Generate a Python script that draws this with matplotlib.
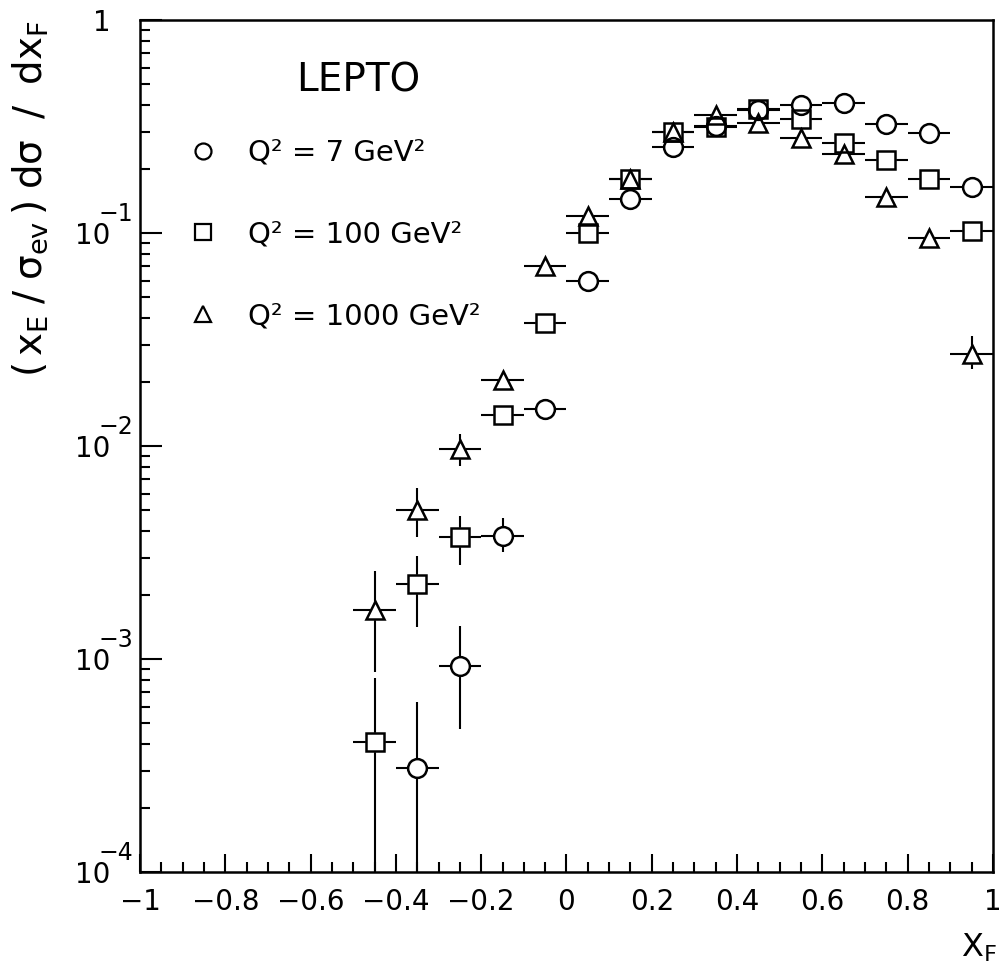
import matplotlib
matplotlib.use('Agg')
import matplotlib.pyplot as plt
from matplotlib.lines import Line2D
from matplotlib.ticker import FixedLocator, FixedFormatter, LogLocator, NullFormatter

plt.rcParams['font.family'] = ['DejaVu Sans']
plt.rcParams['mathtext.default'] = 'regular'

# Q^2 = 7 GeV^2 (circles)
x_q7 = [-0.35, -0.25, -0.15, -0.05, 0.05, 0.15, 0.25, 0.35, 0.45, 0.55, 0.65, 0.75, 0.85, 0.95]
y_q7 = [3.1e-4, 9.3e-4, 3.8e-3, 1.5e-2, 6.0e-2, 0.145, 0.255, 0.32, 0.38, 0.40, 0.41, 0.325, 0.295, 0.165]
up_q7 = [3.2e-4, 5.0e-4, 8.0e-4, 0, 0, 0, 0, 0, 0, 0, 0, 0, 0, 0]
lo_q7 = [3.09e-4, 4.6e-4, 6.0e-4, 0, 0, 0, 0, 0, 0, 0, 0, 0, 0, 0]

# Q^2 = 100 GeV^2 (squares)
x_q100 = [-0.45, -0.35, -0.25, -0.15, -0.05, 0.05, 0.15, 0.25, 0.35, 0.45, 0.55, 0.65, 0.75, 0.85, 0.95]
y_q100 = [4.1e-4, 2.25e-3, 3.75e-3, 1.4e-2, 3.8e-2, 0.10, 0.18, 0.30, 0.315, 0.385, 0.345, 0.265, 0.22, 0.18, 0.103]
up_q100 = [4.1e-4, 8.2e-4, 9.8e-4, 0, 0, 0, 0, 0, 0, 0, 0, 0, 0, 0, 0]
lo_q100 = [4.09e-4, 8.3e-4, 9.8e-4, 0, 0, 0, 0, 0, 0, 0, 0, 0, 0, 0, 0]

# Q^2 = 1000 GeV^2 (triangles)
x_q1000 = [-0.45, -0.35, -0.25, -0.15, -0.05, 0.05, 0.15, 0.25, 0.35, 0.45, 0.55, 0.65, 0.75, 0.85, 0.95]
y_q1000 = [1.7e-3, 5.0e-3, 9.7e-3, 2.05e-2, 7.0e-2, 0.12, 0.18, 0.30, 0.36, 0.33, 0.28, 0.235, 0.148, 0.095, 0.027]
up_q1000 = [9.0e-4, 1.35e-3, 1.7e-3, 0, 0, 0, 0, 0, 0, 0, 0, 0, 0, 0, 6.0e-3]
lo_q1000 = [8.3e-4, 1.25e-3, 1.6e-3, 0, 0, 0, 0, 0, 0, 0, 0, 0, 0, 0, 4.0e-3]

series = [
    (x_q7, y_q7, lo_q7, up_q7, 'o', 'Q² = 7 GeV²'),
    (x_q100, y_q100, lo_q100, up_q100, 's', 'Q² = 100 GeV²'),
    (x_q1000, y_q1000, lo_q1000, up_q1000, '^', 'Q² = 1000 GeV²'),
]
bin_half = 0.05

x_ticks = [-1, -0.8, -0.6, -0.4, -0.2, 0, 0.2, 0.4, 0.6, 0.8, 1]
x_ticklabels = ['−1', '−0.8', '−0.6', '−0.4', '−0.2', '0', '0.2', '0.4', '0.6', '0.8', '1']
y_ticks = [1, 1e-1, 1e-2, 1e-3, 1e-4]
y_ticklabels = ['1', '10', '10', '10', '10']
y_exps = ['', '−1', '−2', '−3', '−4']

fig = plt.figure(figsize=(10.03, 9.67), dpi=100)
ax = fig.add_axes([0.1396, 0.098, 0.8504, 0.881])

ms = 13.5
for x, y, lo, up, mk, lab in series:
    ax.errorbar(x, y, xerr=bin_half, yerr=[lo, up], fmt='none', ecolor='black',
                elinewidth=1.5, capsize=0, zorder=2)
for x, y, lo, up, mk, lab in series:
    ax.plot(x, y, linestyle='none', marker=mk, markersize=ms, markerfacecolor='white',
            markeredgecolor='white', zorder=3)
for x, y, lo, up, mk, lab in series:
    ax.plot(x, y, linestyle='none', marker=mk, markersize=ms, markerfacecolor='none',
            markeredgecolor='black', markeredgewidth=1.8, zorder=4)

ax.set_yscale('log')
ax.set_xlim(-1, 1)
ax.set_ylim(1e-4, 1)

ax.xaxis.set_major_locator(FixedLocator(x_ticks))
ax.xaxis.set_major_formatter(FixedFormatter(x_ticklabels))
ax.xaxis.set_minor_locator(FixedLocator([i * 0.05 - 1 for i in range(41)]))
ax.yaxis.set_major_locator(FixedLocator(y_ticks))
ax.yaxis.set_major_formatter(FixedFormatter(y_ticklabels))
ax.yaxis.set_minor_locator(LogLocator(base=10, subs=range(2, 10)))
ax.yaxis.set_minor_formatter(NullFormatter())

ax.tick_params(axis='both', which='both', direction='in', top=False, right=False, width=1.5)
ax.tick_params(axis='x', which='major', length=13, pad=11, labelsize=20)
ax.tick_params(axis='x', which='minor', length=7)
ax.tick_params(axis='y', which='major', length=16, pad=21, labelsize=20)
ax.tick_params(axis='y', which='minor', length=7)
for s in ax.spines.values():
    s.set_linewidth(1.8)

for val, e in zip(y_ticks, y_exps):
    if e:
        ax.annotate(e, xy=(0, val), xycoords=ax.get_yaxis_transform(),
                    xytext=(-30, 14), textcoords='offset points',
                    ha='left', va='center', fontsize=17)

ax.set_ylabel(r'$(\,x_E\;/\;\sigma_{ev}\,)\;d\sigma\;\;/\;\;dx_F$', fontsize=28, loc='top')
ax.yaxis.set_label_coords(-0.106, 1.0)
ax.set_xlabel(r'$X_F$', fontsize=23, loc='right')
ax.xaxis.set_label_coords(1.005, -0.07)

ax.text(0.2555, 0.9296, 'LEPTO', transform=ax.transAxes, ha='center', va='center', fontsize=28)

handles = [Line2D([], [], linestyle='none', marker=mk, markersize=11.5, markerfacecolor='none',
                  markeredgecolor='black', markeredgewidth=1.6) for _, _, _, _, mk, _ in series]
labels = [lab for *_, lab in series]
ax.legend(handles, labels, loc='upper left', bbox_to_anchor=(0.057, 0.861), frameon=False,
          fontsize=21, handlelength=1.0, handletextpad=1.05, labelspacing=1.85,
          borderpad=0, borderaxespad=0)

fig.savefig('out.png', dpi=100)
